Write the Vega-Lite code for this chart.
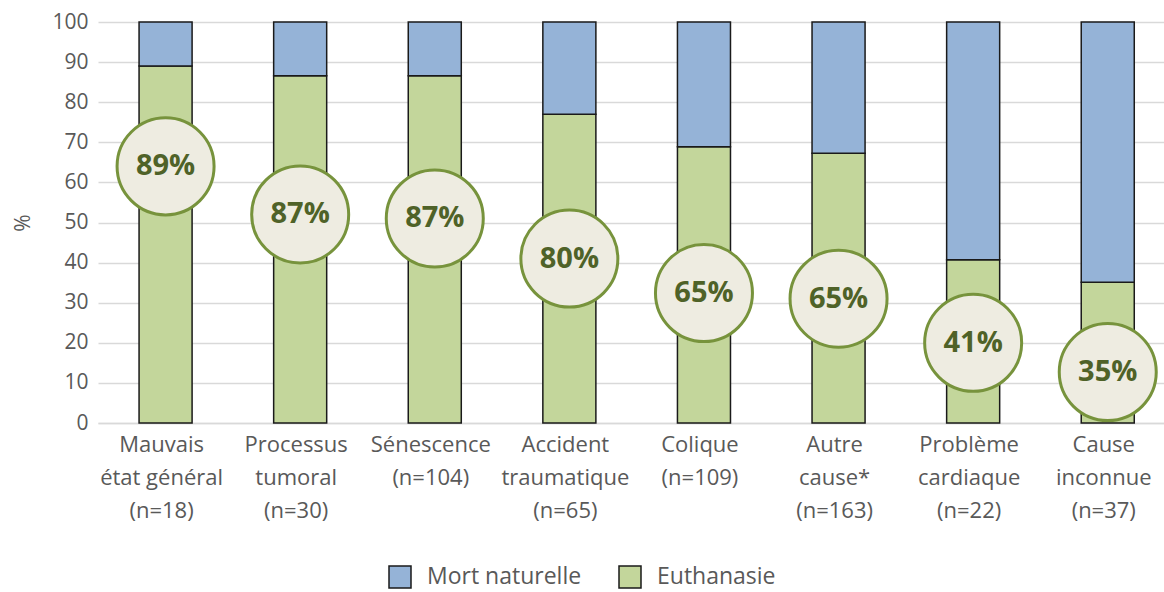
{
  "$schema": "https://vega.github.io/schema/vega-lite/v6.json",
  "autosize": {"type": "none"},
  "width": 1066,
  "height": 401,
  "padding": {"left": 98, "top": 22, "right": 0, "bottom": 169},
  "background": "white",
  "config": {
    "view": {"stroke": null},
    "font": "Open Sans",
    "axis": {"labelFont": "Open Sans", "titleFont": "Open Sans", "labelColor": "#595959", "titleColor": "#595959", "labelFontSize": 21, "titleFontSize": 21, "titleFontWeight": "normal"},
    "legend": {"labelFont": "Open Sans", "labelFontSize": 23, "labelColor": "#595959"}
  },
  "datasets": {
    "bars": [
      {"cause": "Mauvais|état général|(n=18)", "type": "Euthanasie", "value": 89.0},
      {"cause": "Mauvais|état général|(n=18)", "type": "Mort naturelle", "value": 11.0},
      {"cause": "Processus|tumoral|(n=30)", "type": "Euthanasie", "value": 86.6},
      {"cause": "Processus|tumoral|(n=30)", "type": "Mort naturelle", "value": 13.4},
      {"cause": "Sénescence|(n=104)", "type": "Euthanasie", "value": 86.6},
      {"cause": "Sénescence|(n=104)", "type": "Mort naturelle", "value": 13.4},
      {"cause": "Accident|traumatique|(n=65)", "type": "Euthanasie", "value": 77.0},
      {"cause": "Accident|traumatique|(n=65)", "type": "Mort naturelle", "value": 23.0},
      {"cause": "Colique|(n=109)", "type": "Euthanasie", "value": 68.9},
      {"cause": "Colique|(n=109)", "type": "Mort naturelle", "value": 31.1},
      {"cause": "Autre|cause*|(n=163)", "type": "Euthanasie", "value": 67.3},
      {"cause": "Autre|cause*|(n=163)", "type": "Mort naturelle", "value": 32.7},
      {"cause": "Problème|cardiaque|(n=22)", "type": "Euthanasie", "value": 40.7},
      {"cause": "Problème|cardiaque|(n=22)", "type": "Mort naturelle", "value": 59.3},
      {"cause": "Cause|inconnue|(n=37)", "type": "Euthanasie", "value": 35.1},
      {"cause": "Cause|inconnue|(n=37)", "type": "Mort naturelle", "value": 64.9}
    ],
    "badges": [
      {"cause": "Mauvais|état général|(n=18)", "label": "89%", "cy": 64},
      {"cause": "Processus|tumoral|(n=30)", "label": "87%", "cy": 52},
      {"cause": "Sénescence|(n=104)", "label": "87%", "cy": 51},
      {"cause": "Accident|traumatique|(n=65)", "label": "80%", "cy": 41},
      {"cause": "Colique|(n=109)", "label": "65%", "cy": 32.4},
      {"cause": "Autre|cause*|(n=163)", "label": "65%", "cy": 31},
      {"cause": "Problème|cardiaque|(n=22)", "label": "41%", "cy": 20},
      {"cause": "Cause|inconnue|(n=37)", "label": "35%", "cy": 12.7}
    ]
  },
  "encoding": {
    "x": {
      "field": "cause", "type": "nominal", "sort": null,
      "scale": {"paddingInner": 0.606, "paddingOuter": 0.263, "align": 0.58},
      "axis": {"title": null, "labelAngle": 0, "labelExpr": "split(datum.label, '|')", "labelFontSize": 22, "labelBaseline": "top", "labelLineHeight": 33, "labelPadding": 11, "labelOffset": -4, "labelLimit": 0, "ticks": false, "domainColor": "#D9D9D9", "domainWidth": 1.5, "grid": false}
    }
  },
  "layer": [
    {
      "data": {"name": "bars"},
      "mark": {"type": "bar", "stroke": "#1a1a1a", "strokeWidth": 1.5},
      "encoding": {
        "y": {
          "field": "value", "type": "quantitative", "stack": "zero",
          "scale": {"domain": [0, 100], "nice": false},
          "axis": {"title": "%", "values": [0,10,20,30,40,50,60,70,80,90,100], "domain": false, "ticks": false, "labelPadding": 10, "titlePadding": 18, "gridColor": "#D9D9D9", "gridWidth": 1.5}
        },
        "color": {
          "field": "type", "type": "nominal",
          "scale": {"domain": ["Mort naturelle", "Euthanasie"], "range": ["#95B3D7", "#C3D69B"]},
          "legend": {"title": null, "orient": "none", "legendX": 290, "legendY": 543, "direction": "horizontal", "symbolType": "square", "symbolSize": 484, "symbolStrokeColor": "#1a1a1a", "symbolStrokeWidth": 1.5, "symbolOpacity": 1, "columnPadding": 34, "labelOffset": 15}
        },
        "order": {"field": "type", "sort": "ascending"}
      }
    },
    {
      "data": {"name": "badges"},
      "mark": {"type": "point", "shape": "circle", "size": 9409, "filled": true, "fill": "#EEECE1", "stroke": "#77933C", "strokeWidth": 3, "opacity": 1, "fillOpacity": 1},
      "encoding": {
        "y": {"field": "cy", "type": "quantitative"}
      }
    },
    {
      "data": {"name": "badges"},
      "mark": {"type": "text", "font": "Open Sans", "fontSize": 29, "fontWeight": "bold", "color": "#4F6228", "baseline": "middle", "align": "center"},
      "encoding": {
        "y": {"field": "cy", "type": "quantitative"},
        "text": {"field": "label"}
      }
    }
  ]
}
